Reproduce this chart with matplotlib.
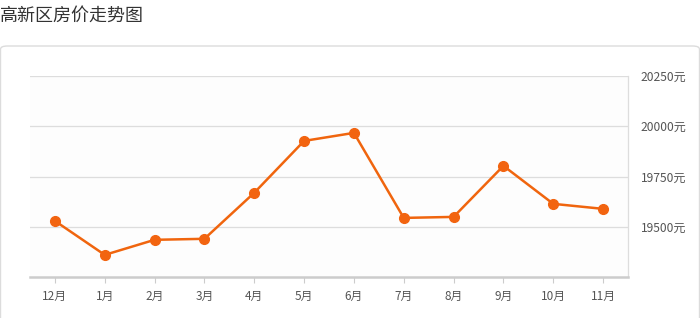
import matplotlib
matplotlib.use("Agg")
import matplotlib.pyplot as plt
from matplotlib.patches import FancyBboxPatch

plt.rcParams['font.family'] = ['Noto Sans CJK SC', 'DejaVu Sans']

title = "高新区房价走势图"
months = ["12月", "1月", "2月", "3月", "4月", "5月", "6月", "7月", "8月", "9月", "10月", "11月"]
prices = [19529, 19360, 19435, 19440, 19669, 19927, 19967, 19544, 19549, 19803, 19614, 19589]
y_ticks = [19500, 19750, 20000, 20250]
y_min, y_max = 19250, 20250

W, H = 700, 318
fig = plt.figure(figsize=(W / 100, H / 100), dpi=100)
fig.patch.set_facecolor("white")

# card frame
card = FancyBboxPatch((0.5 / W, -20 / H), (W - 1) / W, (H - 46 + 20) / H,
                      boxstyle="round,pad=0,rounding_size=0.01",
                      transform=fig.transFigure, facecolor="white",
                      edgecolor="#dcdcdc", linewidth=1.0, zorder=-5)
fig.patches.append(card)

fig.text(0 / W, 1 - 16 / H, title, fontsize=13, color="#333333",
         va="center", ha="left")

ax = fig.add_axes([30 / W, 41 / H, 598 / W, 201 / H])
ax.set_zorder(2)
ax.set_facecolor("#fdfdfd")
x = list(range(len(months)))
ax.plot(x, prices, color="#F0650E", linewidth=1.8, marker="o",
        markersize=7, markerfacecolor="#F26410", markeredgecolor="#F26410",
        zorder=3, clip_on=False)

ax.set_xlim(-0.5, len(months) - 0.5)
ax.set_ylim(y_min, y_max)
ax.set_xticks(x)
ax.set_xticklabels(months)
ax.set_yticks(y_ticks)
ax.set_yticklabels([f"{v}元" for v in y_ticks])
ax.yaxis.tick_right()
ax.tick_params(axis="y", length=0, pad=9, labelsize=8.7, labelcolor="#555555")
ax.tick_params(axis="x", length=4, width=0.8, color="#cccccc", pad=5,
               labelsize=8.5, labelcolor="#555555")
ax.grid(axis="y", color="#dddddd", linewidth=0.9)
ax.set_axisbelow(True)
for s in ["top", "left"]:
    ax.spines[s].set_visible(False)
ax.spines["right"].set_color("#dddddd")
ax.spines["right"].set_linewidth(0.9)
ax.spines["bottom"].set_color("#cccccc")
ax.spines["bottom"].set_linewidth(1.8)

fig.savefig("out.png", dpi=100, facecolor="white")
